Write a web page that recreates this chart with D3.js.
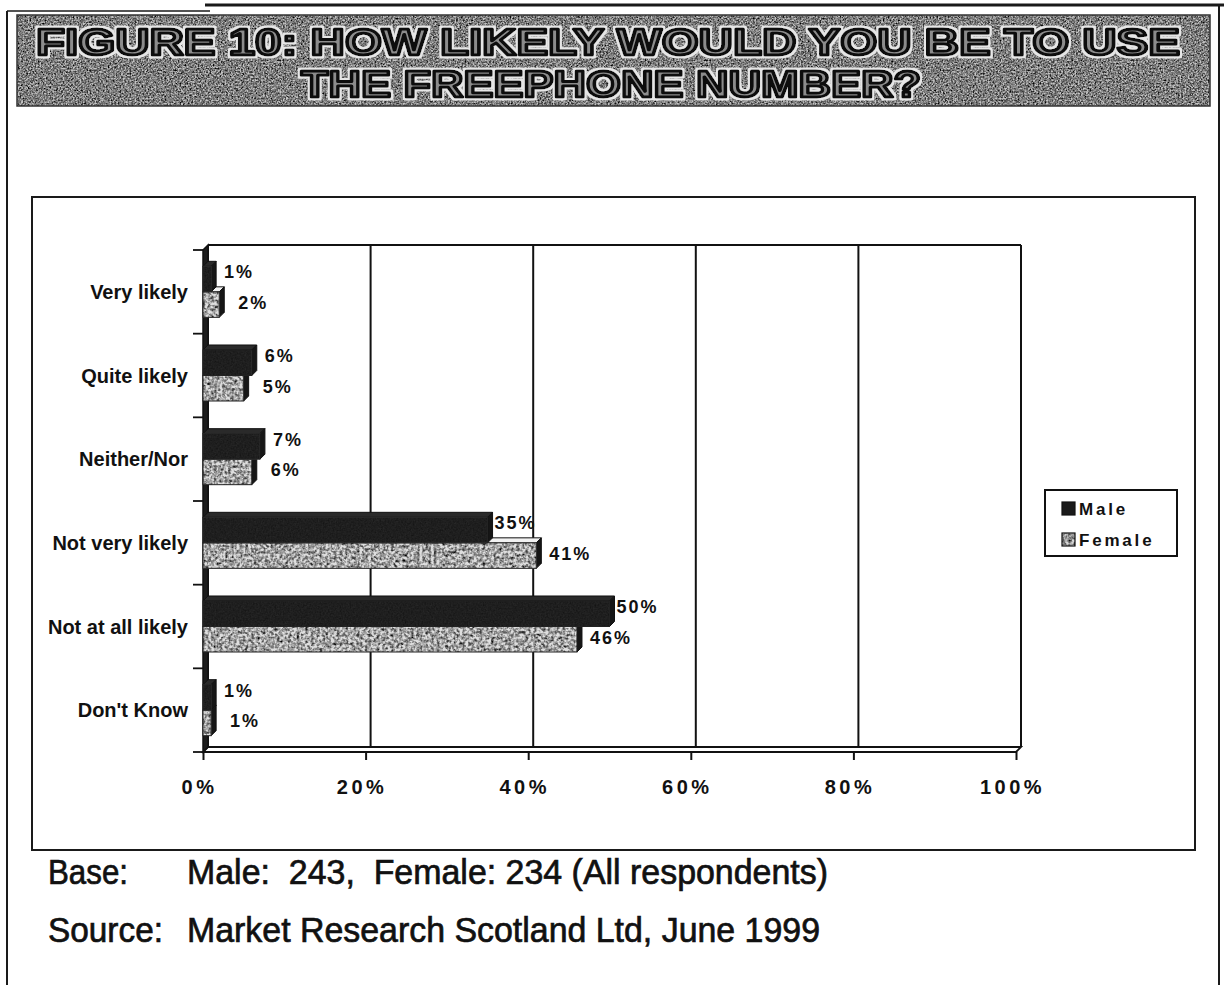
<!DOCTYPE html>
<html>
<head>
<meta charset="utf-8">
<script src="https://cdn.jsdelivr.net/npm/d3@7/dist/d3.min.js"></script>
<style>
  html, body { margin: 0; padding: 0; background: #fff; }
  svg { display: block; }
</style>
</head>
<body>
<script>
// Survey answers, top to bottom
const categories = ["Very likely", "Quite likely", "Neither/Nor", "Not very likely", "Not at all likely", "Don't Know"];
const series = ["Male", "Female"];
const maleValues = [1, 6, 7, 35, 50, 1];
const femaleValues = [2, 5, 6, 41, 46, 1];
const tickValues = [0, 20, 40, 60, 80, 100];
const tickLabels = ["0%", "20%", "40%", "60%", "80%", "100%"];
const titleLines = ["FIGURE 10: HOW LIKELY WOULD YOU BE TO USE", "THE FREEPHONE NUMBER?"];
const baseLine = ["Base:", "Male:  243,  Female: 234 (All respondents)"];
const sourceLine = ["Source:", "Market Research Scotland Ltd, June 1999"];

const W = 1224, H = 985;
const svg = d3.select("body").append("svg").attr("width", W).attr("height", H);
const defs = svg.append("defs");

// grain filter: grayscale noise multiplied over the fill
function grain(id, freq, slope, intercept, seed) {
  const f = defs.append("filter").attr("id", id)
    .attr("x", 0).attr("y", 0).attr("width", "100%").attr("height", "100%")
    .attr("color-interpolation-filters", "sRGB");
  f.append("feTurbulence").attr("type", "fractalNoise").attr("baseFrequency", freq)
    .attr("numOctaves", 2).attr("seed", seed).attr("result", "noise");
  f.append("feColorMatrix").attr("in", "noise").attr("type", "matrix")
    .attr("values", "0.33 0.33 0.33 0 0  0.33 0.33 0.33 0 0  0.33 0.33 0.33 0 0  0 0 0 0 1")
    .attr("result", "gray");
  const ct = f.append("feComponentTransfer").attr("in", "gray").attr("result", "contrast");
  ["feFuncR", "feFuncG", "feFuncB"].forEach(fn =>
    ct.append(fn).attr("type", "linear").attr("slope", slope).attr("intercept", intercept));
  f.append("feComposite").attr("in", "contrast").attr("in2", "SourceGraphic")
    .attr("operator", "in").attr("result", "clip");
  f.append("feBlend").attr("in", "clip").attr("in2", "SourceGraphic").attr("mode", "multiply");
}
grain("titleGrain", 0.6, 3.2, -0.95, 7);
grain("barGrain", 0.35, 3.0, -0.75, 3);
grain("darkGrain", 0.6, 1.2, 0.2, 5);

// light halo around the banner lettering
const halo = defs.append("filter").attr("id", "halo")
  .attr("x", "-5%").attr("y", "-20%").attr("width", "110%").attr("height", "140%");
halo.append("feMorphology").attr("in", "SourceAlpha").attr("operator", "dilate").attr("radius", 2).attr("result", "fat");
halo.append("feFlood").attr("flood-color", "#e6e6e6").attr("result", "light");
halo.append("feComposite").attr("in", "light").attr("in2", "fat").attr("operator", "in").attr("result", "ring");
const hm = halo.append("feMerge");
hm.append("feMergeNode").attr("in", "ring");
hm.append("feMergeNode").attr("in", "SourceGraphic");

// ---- outer page frame ----
const frame = svg.append("g").attr("stroke", "#1a1a1a").attr("fill", "none");
frame.append("line").attr("x1", 205).attr("x2", 1224).attr("y1", 5).attr("y2", 5).attr("stroke-width", 3);
frame.append("line").attr("x1", 7).attr("x2", 210).attr("y1", 11).attr("y2", 11).attr("stroke-width", 1.5);
frame.append("line").attr("x1", 7).attr("x2", 7).attr("y1", 11).attr("y2", H).attr("stroke-width", 2);
frame.append("line").attr("x1", 1219).attr("x2", 1219).attr("y1", 5).attr("y2", H).attr("stroke-width", 2);

// ---- title banner ----
svg.append("rect").attr("x", 17).attr("y", 15).attr("width", 1193).attr("height", 91)
  .attr("fill", "#c4c4c4").attr("filter", "url(#titleGrain)");
svg.append("rect").attr("x", 17).attr("y", 15).attr("width", 1193).attr("height", 91)
  .attr("fill", "none").attr("stroke", "#333").attr("stroke-width", 1.5);

const titleG = svg.append("g")
  .attr("font-family", "'Liberation Sans Narrow','Arial Narrow','Liberation Sans',Arial,sans-serif")
  .attr("font-weight", "bold").attr("font-size", 37).attr("stroke-linejoin", "round")
  .attr("fill", "#8c8c8c").attr("stroke", "#080808").attr("stroke-width", 3)
  .attr("filter", "url(#halo)");
titleG.append("text").attr("x", 36).attr("y", 55).attr("textLength", 1144)
  .attr("lengthAdjust", "spacingAndGlyphs").text(titleLines[0]);
titleG.append("text").attr("x", 301).attr("y", 97).attr("textLength", 620)
  .attr("lengthAdjust", "spacingAndGlyphs").text(titleLines[1]);

// ---- chart frame ----
svg.append("rect").attr("x", 32).attr("y", 197).attr("width", 1163).attr("height", 653)
  .attr("fill", "#fff").attr("stroke", "#1a1a1a").attr("stroke-width", 2);

// ---- scales ----
const depth = 5;
const x = d3.scaleLinear().domain([0, 100]).range([203, 1016]);
const y = d3.scaleBand().domain(categories).range([250, 752]).paddingInner(0).paddingOuter(0);
const ySub = d3.scaleBand().domain(series).range([0, y.bandwidth()]).paddingInner(0).paddingOuter(0.64);
const yTop = y.range()[0], yBot = y.range()[1];
const x0 = x(0), x1 = x(100);

const plot = svg.append("g");

// floor
plot.append("path")
  .attr("d", `M${x0},${yBot} L${x0 + depth},${yBot - depth} L${x1 + depth},${yBot - depth} L${x1},${yBot} Z`)
  .attr("fill", "#fff").attr("stroke", "#111").attr("stroke-width", 1.8);

// back wall top edge and vertical gridlines
plot.append("line").attr("x1", x0 + depth).attr("x2", x1 + depth)
  .attr("y1", yTop - depth).attr("y2", yTop - depth).attr("stroke", "#111").attr("stroke-width", 2);
plot.selectAll("line.grid").data(tickValues).join("line").attr("class", "grid")
  .attr("x1", d => x(d) + depth).attr("x2", d => x(d) + depth)
  .attr("y1", yTop - depth).attr("y2", yBot - depth)
  .attr("stroke", "#111").attr("stroke-width", 2);

// left wall
plot.append("path")
  .attr("d", `M${x0},${yTop} L${x0 + depth},${yTop - depth} L${x0 + depth},${yBot - depth} L${x0},${yBot} Z`)
  .attr("fill", "#1c1c1c").attr("stroke", "#111").attr("stroke-width", 1.5);

// category axis ticks at band edges
const edges = categories.map(c => y(c)).concat([yBot]);
plot.selectAll("line.ytick").data(edges).join("line").attr("class", "ytick")
  .attr("x1", x0 - 10).attr("x2", x0).attr("y1", d => d).attr("y2", d => d)
  .attr("stroke", "#111").attr("stroke-width", 1.8);

// value axis ticks and labels
const xAxis = d3.axisBottom(x).tickValues(tickValues).tickSize(8).tickFormat((d, i) => tickLabels[i]);
const xg = plot.append("g").attr("transform", `translate(0,${yBot})`).call(xAxis);
xg.select(".domain").remove();
xg.selectAll(".tick line").attr("stroke", "#111").attr("stroke-width", 2);
xg.selectAll(".tick text")
  .attr("dy", 0).attr("y", 42).attr("dx", -4)
  .attr("font-family", "'Liberation Sans',Arial,sans-serif").attr("font-weight", "bold")
  .attr("font-size", 20).attr("letter-spacing", 3.5).attr("fill", "#111");

// category labels
plot.selectAll("text.cat").data(categories).join("text").attr("class", "cat")
  .attr("x", 188).attr("y", d => y(d) + y.bandwidth() / 2)
  .attr("dy", "0.35em").attr("text-anchor", "end")
  .attr("font-family", "'Liberation Sans',Arial,sans-serif").attr("font-weight", "bold")
  .attr("font-size", 20).attr("fill", "#111").text(d => d);

// 3D bar: front face, top face, right side face
function bar3d(g, cat, v, s) {
  const bx = x0, ex = x(v), by = y(cat) + ySub(s), h = ySub.bandwidth();
  const male = s === "Male";
  g.append("path")
    .attr("d", `M${bx},${by} L${bx + depth},${by - depth} L${ex + depth},${by - depth} L${ex},${by} Z`)
    .attr("fill", male ? "#2a2a2a" : "#f2f2f2").attr("stroke", "#111").attr("stroke-width", 1);
  g.append("path")
    .attr("d", `M${ex},${by} L${ex + depth},${by - depth} L${ex + depth},${by + h - depth} L${ex},${by + h} Z`)
    .attr("fill", "#161616").attr("stroke", "#111").attr("stroke-width", 1);
  g.append("rect").attr("x", bx).attr("y", by).attr("width", ex - bx).attr("height", h)
    .attr("fill", male ? "#262626" : "#dedede")
    .attr("filter", male ? "url(#darkGrain)" : "url(#barGrain)");
  g.append("rect").attr("x", bx).attr("y", by).attr("width", ex - bx).attr("height", h)
    .attr("fill", "none").attr("stroke", "#222").attr("stroke-width", 1);
}

const bars = plot.append("g");
categories.forEach((c, i) => {
  const g = bars.append("g");
  bar3d(g, c, femaleValues[i], "Female");
  bar3d(g, c, maleValues[i], "Male");
});

// value labels
const lblFont = "'Liberation Sans',Arial,sans-serif";
const labels = plot.append("g").attr("font-family", lblFont).attr("font-weight", "bold")
  .attr("font-size", 18).attr("letter-spacing", 2).attr("fill", "#111").attr("text-anchor", "middle");
categories.forEach((c, i) => {
  labels.append("text")
    .attr("x", x(maleValues[i]) + depth + 23)
    .attr("y", y(c) + ySub("Male") + ySub.bandwidth() / 2 - 7)
    .attr("dy", "0.35em").text(maleValues[i] + "%");
  labels.append("text")
    .attr("x", x(femaleValues[i]) + depth + 29)
    .attr("y", y(c) + ySub("Female") + ySub.bandwidth() / 2 - 2)
    .attr("dy", "0.35em").text(femaleValues[i] + "%");
});

// legend
const lg = svg.append("g");
lg.append("rect").attr("x", 1045).attr("y", 490).attr("width", 132).attr("height", 66)
  .attr("fill", "#fff").attr("stroke", "#111").attr("stroke-width", 2);
series.forEach((s, i) => {
  const ly = 509 + i * 31;
  lg.append("rect").attr("x", 1062).attr("y", ly - 7).attr("width", 13).attr("height", 13)
    .attr("fill", i === 0 ? "#1a1a1a" : "#d8d8d8")
    .attr("filter", i === 0 ? null : "url(#barGrain)");
  lg.append("rect").attr("x", 1062).attr("y", ly - 7).attr("width", 13).attr("height", 13)
    .attr("fill", "none").attr("stroke", "#111").attr("stroke-width", 1.2);
  lg.append("text").attr("x", 1079).attr("y", ly).attr("dy", "0.35em")
    .attr("font-family", lblFont).attr("font-weight", "bold").attr("font-size", 17)
    .attr("letter-spacing", 2.8).attr("fill", "#111").text(s);
});

// footnotes
const foot = svg.append("g").attr("font-family", "'Liberation Sans',Arial,sans-serif")
  .attr("font-size", 35).attr("fill", "#111").attr("stroke", "#111").attr("stroke-width", 0.7);
[[baseLine, 884, 80, 641], [sourceLine, 942, 115, 633]].forEach(([parts, by, len0, len1]) => {
  foot.append("text").attr("x", 48).attr("y", by).attr("xml:space", "preserve")
    .attr("textLength", len0).attr("lengthAdjust", "spacingAndGlyphs").text(parts[0]);
  foot.append("text").attr("x", 187).attr("y", by).attr("xml:space", "preserve")
    .attr("textLength", len1).attr("lengthAdjust", "spacingAndGlyphs").text(parts[1]);
});
</script>
</body>
</html>
